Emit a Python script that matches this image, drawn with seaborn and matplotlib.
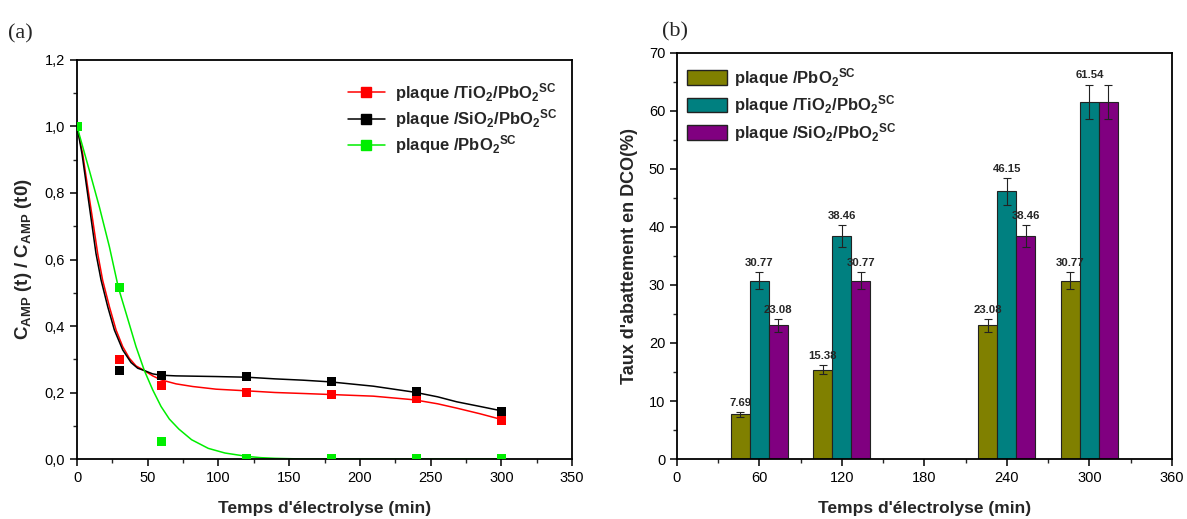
import pandas as pd
import seaborn as sns
from matplotlib import pyplot as plt
from matplotlib import ticker as ticktools
from matplotlib.lines import Line2D
from matplotlib.patches import Patch

# ---- panel (a): measured points ----
t_pts = [0, 30, 60, 120, 180, 240, 300]
tio2_pts = [1.0, 0.298, 0.220, 0.200, 0.194, 0.182, 0.117]
sio2_pts = [1.0, 0.266, 0.250, 0.247, 0.232, 0.202, 0.142]
pbo2_pts = [1.0, 0.516, 0.052, 0.002, 0.002, 0.002, 0.002]

# fitted curves
tio2_fit_t = [0, 4.0, 7.5, 11.1, 14.6, 18.1, 22.9, 27.6, 32.3, 37.0, 41.7, 47.6,
              53.5, 59.4, 70.0, 81.8, 98.3, 120, 140, 160, 179, 209.5, 238.5,
              255, 268.5, 285, 300]
tio2_fit_v = [1.0, 0.918, 0.818, 0.718, 0.618, 0.538, 0.458, 0.388, 0.338, 0.303,
              0.280, 0.266, 0.250, 0.238, 0.226, 0.218, 0.210, 0.205, 0.200, 0.197,
              0.194, 0.189, 0.178, 0.166, 0.153, 0.136, 0.119]
sio2_fit_t = [0, 3.5, 6.8, 10.1, 13.4, 17.0, 21.7, 26.4, 32.3, 38.2, 42.9, 47.6,
              53.5, 59.4, 70.0, 98.3, 120, 140, 160, 179, 209.5, 238.5, 255,
              268.5, 285, 300]
sio2_fit_v = [1.0, 0.918, 0.818, 0.718, 0.618, 0.538, 0.458, 0.388, 0.328, 0.290,
              0.273, 0.266, 0.256, 0.252, 0.250, 0.248, 0.246, 0.241, 0.237, 0.232,
              0.219, 0.201, 0.187, 0.172, 0.158, 0.145]
pbo2_fit_t = [0, 8.7, 15.8, 22.9, 29.2, 34.7, 41.7, 47.6, 53.5, 59.4, 65.3, 72,
              81, 92.8, 104.6, 120, 130, 140, 160, 200, 250, 300]
pbo2_fit_v = [1.0, 0.868, 0.758, 0.638, 0.516, 0.438, 0.338, 0.266, 0.208, 0.158,
              0.120, 0.090, 0.058, 0.032, 0.018, 0.008, 0.004, 0.002, 0.0, 0.0,
              0.0, 0.0]

# ---- panel (b): COD removal ----
t_bars = [60, 120, 240, 300]
dco_pbo2 = [7.69, 15.38, 23.08, 30.77]
dco_tio2 = [30.77, 38.46, 46.15, 61.54]
dco_sio2 = [23.08, 30.77, 38.46, 61.54]
err_pbo2 = [0.4, 0.8, 1.1, 1.5]
err_tio2 = [1.5, 1.9, 2.3, 3.0]
err_sio2 = [1.1, 1.5, 1.9, 3.0]
lbl_pbo2 = ["7.69", "15.38", "23.08", "30.77"]
lbl_tio2 = ["30.77", "38.46", "46.15", "61.54"]
lbl_sio2 = ["23.08", "30.77", "38.46", ""]

y_ticks_a = [0.0, 0.2, 0.4, 0.6, 0.8, 1.0, 1.2]
y_ticklabels_a = ["0,0", "0,2", "0,4", "0,6", "0,8", "1,0", "1,2"]

name_pbo2 = "plaque /PbO$_{2}$$^{SC}$"
name_tio2 = "plaque /TiO$_{2}$/PbO$_{2}$$^{SC}$"
name_sio2 = "plaque /SiO$_{2}$/PbO$_{2}$$^{SC}$"


def main():
    sns.set_style("ticks")
    plt.rcParams["font.family"] = ["Liberation Sans", "DejaVu Sans"]
    plt.rcParams["mathtext.fontset"] = "custom"
    plt.rcParams["mathtext.rm"] = "Liberation Sans:bold"
    plt.rcParams["mathtext.it"] = "Liberation Sans:bold"
    plt.rcParams["mathtext.bf"] = "Liberation Sans:bold"
    plt.rcParams["axes.linewidth"] = 1.3
    plt.rcParams["xtick.direction"] = "out"
    plt.rcParams["ytick.direction"] = "out"

    fig = plt.figure(figsize=(11.87, 5.19), dpi=100)
    ax1 = fig.add_axes([0.0649, 0.1156, 0.417, 0.7688])
    ax2 = fig.add_axes([0.5703, 0.1156, 0.417, 0.7823])

    colors_a = {name_tio2: "#ff0000", name_sio2: "#000000", name_pbo2: "#00ee00"}
    order_a = [name_tio2, name_sio2, name_pbo2]

    fit_df = pd.concat([
        pd.DataFrame({"t": tio2_fit_t, "v": tio2_fit_v, "s": name_tio2}),
        pd.DataFrame({"t": sio2_fit_t, "v": sio2_fit_v, "s": name_sio2}),
        pd.DataFrame({"t": pbo2_fit_t, "v": pbo2_fit_v, "s": name_pbo2}),
    ])
    pts_df = pd.concat([
        pd.DataFrame({"t": t_pts, "v": tio2_pts, "s": name_tio2}),
        pd.DataFrame({"t": t_pts, "v": sio2_pts, "s": name_sio2}),
        pd.DataFrame({"t": t_pts, "v": pbo2_pts, "s": name_pbo2}),
    ])

    sns.lineplot(data=fit_df, x="t", y="v", hue="s", palette=colors_a,
                 hue_order=order_a, sort=False, linewidth=1.1, legend=False, ax=ax1)
    sns.scatterplot(data=pts_df, x="t", y="v", hue="s", palette=colors_a,
                    hue_order=order_a, marker="s", s=42, linewidth=0,
                    legend=False, ax=ax1, zorder=3)

    ax1.set_xlim(0, 350)
    ax1.set_ylim(0, 1.2)
    ax1.set_yticks(y_ticks_a)
    ax1.set_yticklabels(y_ticklabels_a)
    ax1.xaxis.set_major_locator(ticktools.MultipleLocator(50))
    ax1.xaxis.set_minor_locator(ticktools.MultipleLocator(25))
    ax1.yaxis.set_minor_locator(ticktools.MultipleLocator(0.1))
    ax1.set_xlabel("Temps d'électrolyse (min)", fontsize=12.5, fontweight="bold",
                   labelpad=12)
    ax1.set_ylabel("C$_{AMP}$ (t) / C$_{AMP}$ (t0)", fontsize=13.5,
                   fontweight="bold", labelpad=8)

    handles_a = [Line2D([0], [0], color=colors_a[n], marker="s", markersize=7,
                        linewidth=1.1) for n in order_a]
    ax1.legend(handles_a, order_a, loc="upper right", bbox_to_anchor=(1.0, 0.985),
               frameon=False, prop={"size": 12, "weight": "bold"},
               handlelength=2.2, handletextpad=0.6, labelspacing=0.2)

    # ---- bars ----
    colors_b = {name_pbo2: "#808000", name_tio2: "#008080", name_sio2: "#800080"}
    order_b = [name_pbo2, name_tio2, name_sio2]
    bar_df = pd.concat([
        pd.DataFrame({"t": t_bars, "v": dco_pbo2, "s": name_pbo2}),
        pd.DataFrame({"t": t_bars, "v": dco_tio2, "s": name_tio2}),
        pd.DataFrame({"t": t_bars, "v": dco_sio2, "s": name_sio2}),
    ])
    sns.barplot(data=bar_df, x="t", y="v", hue="s", hue_order=order_b,
                palette=colors_b, saturation=1, native_scale=True, width=0.69,
                edgecolor="#222222", linewidth=0.8, legend=False, ax=ax2)

    errs = err_pbo2 + err_tio2 + err_sio2
    labels = lbl_pbo2 + lbl_tio2 + lbl_sio2
    for bar, e, lbl in zip(ax2.patches, errs, labels):
        xc = bar.get_x() + bar.get_width() / 2
        h = bar.get_height()
        ax2.errorbar(xc, h, yerr=e, color="#222222", capsize=3, elinewidth=0.8,
                     capthick=0.8)
        if lbl:
            ax2.annotate(lbl, (xc, h + e), xytext=(0, 3), textcoords="offset points",
                         ha="center", va="bottom", fontsize=8.2, fontweight="bold")

    ax2.set_xlim(0, 360)
    ax2.set_ylim(0, 70)
    ax2.xaxis.set_major_locator(ticktools.MultipleLocator(60))
    ax2.xaxis.set_minor_locator(ticktools.MultipleLocator(30))
    ax2.yaxis.set_major_locator(ticktools.MultipleLocator(10))
    ax2.yaxis.set_minor_locator(ticktools.MultipleLocator(5))
    ax2.xaxis.set_major_formatter(ticktools.FormatStrFormatter("%d"))
    ax2.set_xlabel("Temps d'électrolyse (min)", fontsize=12.5, fontweight="bold",
                   labelpad=12)
    ax2.set_ylabel("Taux d'abattement en DCO(%)", fontsize=13, fontweight="bold",
                   labelpad=8)

    handles_b = [Patch(facecolor=colors_b[n], edgecolor="#222222") for n in order_b]
    ax2.legend(handles_b, order_b, loc="upper left", bbox_to_anchor=(0.0, 0.993),
               borderaxespad=0.2, frameon=False,
               prop={"size": 12, "weight": "bold"},
               handlelength=2.4, handleheight=1.0, handletextpad=0.4,
               labelspacing=0.28)

    for ax in (ax1, ax2):
        for sp in ax.spines.values():
            sp.set_visible(True)
            sp.set_color("black")
        ax.tick_params(which="major", length=5, width=1.1, labelsize=10.5,
                       colors="black")
        ax.tick_params(which="minor", length=3, width=1.0)

    fig.text(0.007, 0.925, "(a)", family="Liberation Serif", fontsize=16)
    fig.text(0.558, 0.93, "(b)", family="Liberation Serif", fontsize=16)

    fig.savefig("out.png", dpi=100)


main()
